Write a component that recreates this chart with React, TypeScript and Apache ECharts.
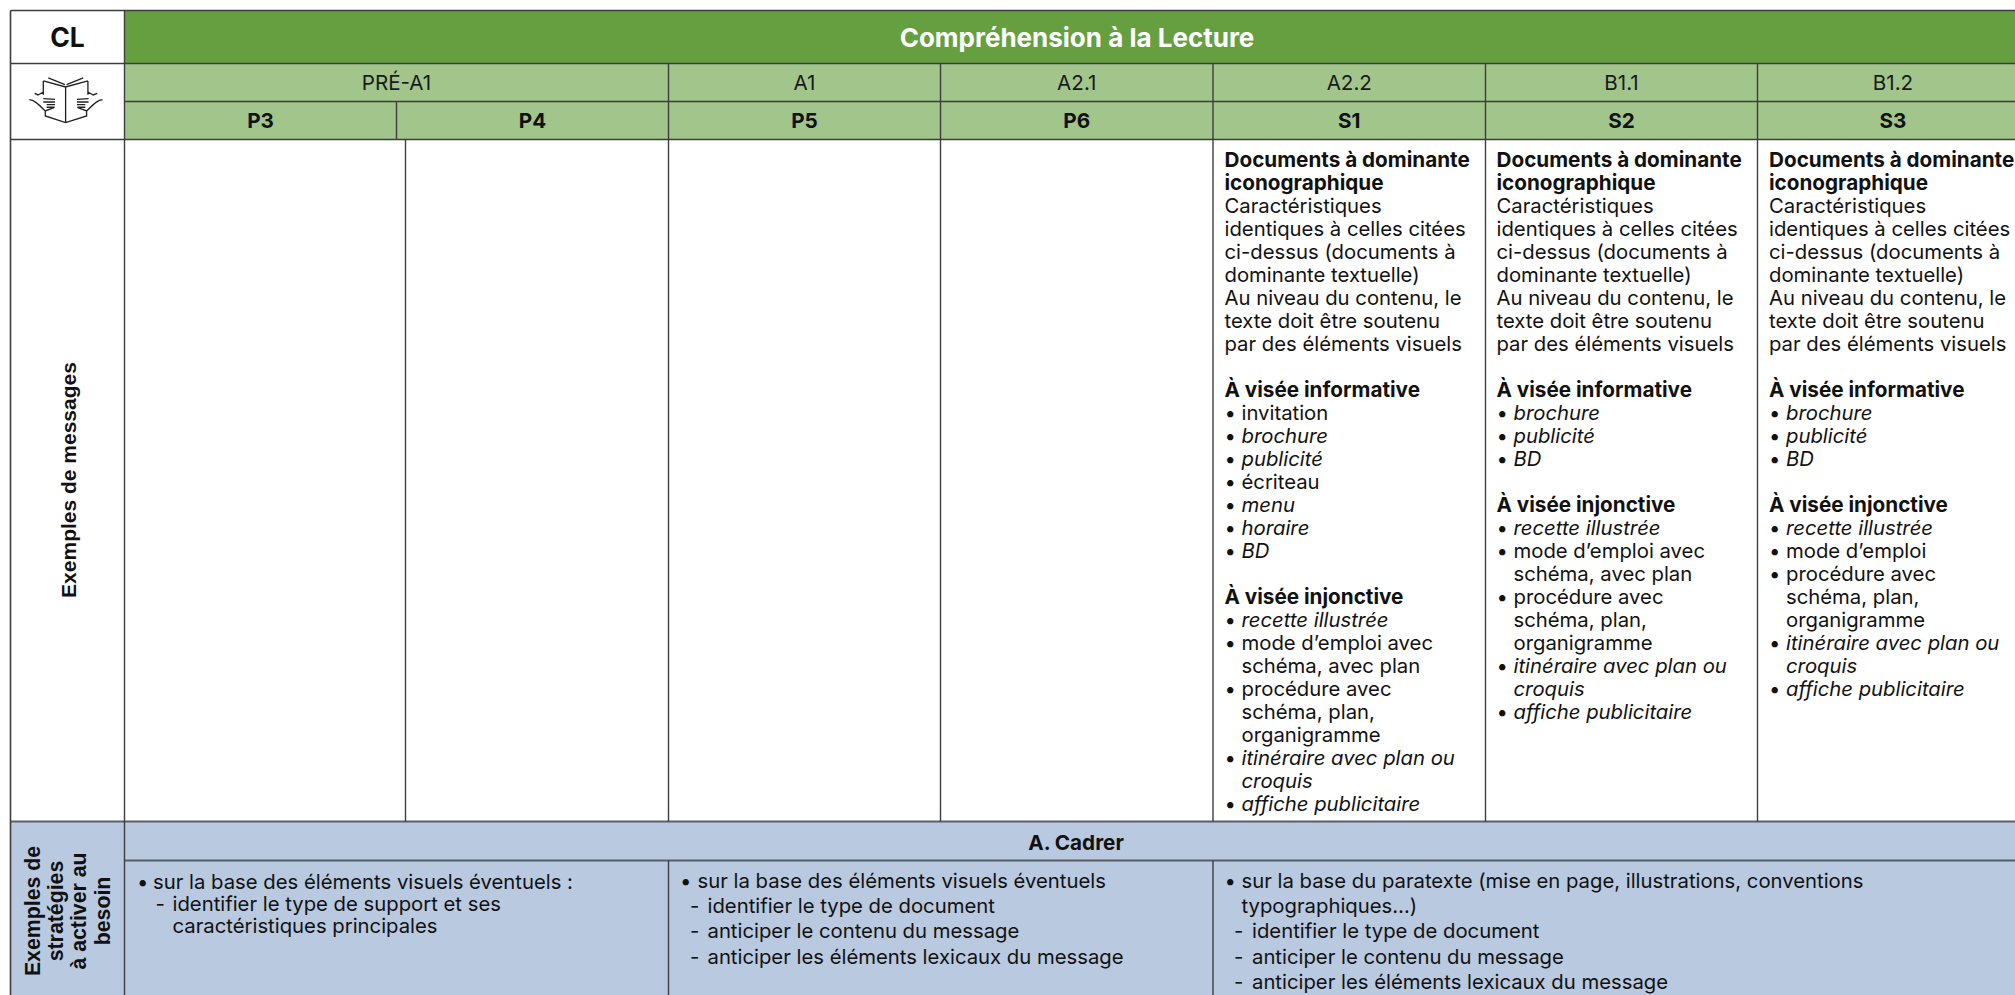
import React, { useEffect, useRef } from "react";
import * as echarts from "echarts";

const title = "Compréhension à la Lecture";
const corner = "CL";
const levels = ["PRÉ-A1", "A1", "A2.1", "A2.2", "B1.1", "B1.2"];
const grades = ["P3", "P4", "P5", "P6", "S1", "S2", "S3"];
const rowLabelMessages = "Exemples de messages";
const rowLabelStrategies = ["Exemples de", "stratégies", "à activer au", "besoin"];
const sectionTitle = "A. Cadrer";

const intro = [
  ["b", "Documents à dominante"],
  ["b", "iconographique"],
  ["r", "Caractéristiques"],
  ["r", "identiques à celles citées"],
  ["r", "ci-dessus (documents à"],
  ["r", "dominante textuelle)"],
  ["r", "Au niveau du contenu, le"],
  ["r", "texte doit être soutenu"],
  ["r", "par des éléments visuels"],
  ["", ""],
  ["b", "À visée informative"],
];
const cellS1 = [
  ...intro,
  ["lr", "invitation"],
  ["li", "brochure"],
  ["li", "publicité"],
  ["lr", "écriteau"],
  ["li", "menu"],
  ["li", "horaire"],
  ["li", "BD"],
  ["", ""],
  ["b", "À visée injonctive"],
  ["li", "recette illustrée"],
  ["lr", "mode d’emploi avec"],
  ["cr", "schéma, avec plan"],
  ["lr", "procédure avec"],
  ["cr", "schéma, plan,"],
  ["cr", "organigramme"],
  ["li", "itinéraire avec plan ou"],
  ["ci", "croquis"],
  ["li", "affiche publicitaire"],
];
const cellS2 = [
  ...intro,
  ["li", "brochure"],
  ["li", "publicité"],
  ["li", "BD"],
  ["", ""],
  ["b", "À visée injonctive"],
  ["li", "recette illustrée"],
  ["lr", "mode d’emploi avec"],
  ["cr", "schéma, avec plan"],
  ["lr", "procédure avec"],
  ["cr", "schéma, plan,"],
  ["cr", "organigramme"],
  ["li", "itinéraire avec plan ou"],
  ["ci", "croquis"],
  ["li", "affiche publicitaire"],
];
const cellS3 = [
  ...intro,
  ["li", "brochure"],
  ["li", "publicité"],
  ["li", "BD"],
  ["", ""],
  ["b", "À visée injonctive"],
  ["li", "recette illustrée"],
  ["lr", "mode d’emploi"],
  ["lr", "procédure avec"],
  ["cr", "schéma, plan,"],
  ["cr", "organigramme"],
  ["li", "itinéraire avec plan ou"],
  ["ci", "croquis"],
  ["li", "affiche publicitaire"],
];
const stratA = [
  ["lr", "sur la base des éléments visuels éventuels :"],
  ["d", "identifier le type de support et ses"],
  ["e", "caractéristiques principales"],
];
const stratB = [
  ["lr", "sur la base des éléments visuels éventuels"],
  ["d", "identifier le type de document"],
  ["d", "anticiper le contenu du message"],
  ["d", "anticiper les éléments lexicaux du message"],
];
const stratC = [
  ["lr", "sur la base du paratexte (mise en page, illustrations, conventions"],
  ["cr", "typographiques…)"],
  ["d", "identifier le type de document"],
  ["d", "anticiper le contenu du message"],
  ["d", "anticiper les éléments lexicaux du message"],
];

const bookPath =
  "M167 75L167 182M100 57L167 75L234 57M115 48L165 68M220 48L170 68M100 57L100 98M234 57L234 98" +
  "M106 146L106 162L167 182L230 162L230 146" +
  "M74 94L84 99L100 90M262 94L250 99L234 90" +
  "M58 113C72 114 82 124 106 147L134 136M278 113C264 114 254 124 230 147L202 136" +
  "M100 110L135 112M100 120L135 120M110 128L135 128M110 136L134 136" +
  "M236 110L201 112M236 120L201 120M226 128L201 128M226 136L202 136";
echarts.graphic.registerShape("book", echarts.graphic.extendPath(bookPath, {}) as any);

const FONT = "Inter";
const GREEN = "#659f3f";
const LIGHT = "#a2c58b";
const BLUE = "#b8c9e0";
const INK = "#111111";
const LINE = "#3d3d3d";
const FS = 20.3;
const FB = 20.7;

const X0 = 10.5, X1 = 124.5, XP = 396.5, XB = 405.5, X2 = 668.5, X3 = 940.5, X4 = 1213, X5 = 1485.5, X6 = 1757.5, XE = 2028.5, XR = 2015;
const Y0 = 10.5, Y1 = 63.5, Y2 = 101.5, Y3 = 139.5, Y4 = 821.5, Y5 = 860.5, YB = 995;

function rect(x: number, y: number, w: number, h: number, fill: string) {
  return { type: "rect", shape: { x, y, width: w, height: h }, style: { fill, stroke: "none" }, silent: true };
}
function line(x1: number, y1: number, x2: number, y2: number, w = 1.4, c = LINE) {
  return { type: "line", shape: { x1, y1, x2, y2 }, style: { stroke: c, lineWidth: w }, silent: true };
}
function text(x: number, y: number, t: string, o: any = {}) {
  return {
    type: "text",
    x,
    y,
    rotation: o.rotation || 0,
    silent: true,
    style: {
      text: t,
      fontFamily: o.family || FONT,
      fontSize: o.size || FS,
      fontWeight: o.weight || 400,
      fontStyle: o.italic ? "italic" : "normal",
      fill: o.fill || INK,
      align: o.align || "left",
      verticalAlign: "middle",
    },
  };
}

function cell(lines: string[][], x: number, y: number, step: number, ind: any) {
  const out: any[] = [];
  lines.forEach(([k, t], i) => {
    const yy = y + i * step;
    if (!k) return;
    if (k === "b") out.push(text(x, yy, t, { weight: 700, size: FB }));
    else if (k === "r") out.push(text(x, yy, t));
    else if (k === "lr" || k === "li") {
      out.push(text(x, yy, "•"));
      out.push(text(x + ind.t, yy, t, { italic: k === "li" }));
    } else if (k === "cr" || k === "ci") out.push(text(x + ind.t, yy, t, { italic: k === "ci" }));
    else if (k === "d") {
      out.push(text(x + ind.d, yy, "-"));
      out.push(text(x + ind.dt, yy, t));
    } else if (k === "e") out.push(text(x + ind.dt, yy, t));
  });
  return out;
}

export default function App() {
  const ref = useRef<HTMLDivElement>(null);
  useEffect(() => {
    document.body.style.margin = "0";
    const chart = echarts.init(ref.current!, null, { renderer: "svg" });
    const cx = [X2, X3, X4, X5, X6, XE];
    const els: any[] = [
      rect(0, 0, 2015, 995, "#ffffff"),
      rect(X1, Y0, XR - X1, Y1 - Y0, GREEN),
      rect(X1, Y1, XR - X1, Y3 - Y1, LIGHT),
      rect(X0, Y4, XR - X0, YB - Y4, BLUE),
    ];
    // header labels
    els.push(text((X0 + X1) / 2, 37, corner, { weight: 700, size: 26.5, align: "center" }));
    els.push(text(1077, 37, title, { weight: 700, size: 26, fill: "#ffffff", align: "center" }));
    levels.forEach((l, i) => {
      const a = i === 0 ? X1 : cx[i - 1];
      els.push(text((a + cx[i]) / 2, 82, l, { size: 20.6, align: "center", fill: "#1a1a1a" }));
    });
    const gx = [X1, XP, X2, X3, X4, X5, X6, XE];
    grades.forEach((g, i) => {
      els.push(text((gx[i] + gx[i + 1]) / 2, 120.5, g, { weight: 700, size: FB, align: "center" }));
    });
    // body cells
    const ind = { t: 17, d: 9.5, dt: 28 };
    els.push(...cell(cellS1, 1224.5, 159, 23, ind));
    els.push(...cell(cellS2, 1496.5, 159, 23, ind));
    els.push(...cell(cellS3, 1769, 159, 23, ind));
    els.push(...cell(stratA, 137, 881, 22, { t: 16, d: 18.5, dt: 35.5 }));
    els.push(...cell(stratB, 680, 880, 25.4, { t: 17.5, d: 10, dt: 27.5 }));
    els.push(...cell(stratC, 1224.5, 880, 25.4, { t: 17, d: 9.5, dt: 27.5 }));
    els.push(text(1076, 842, sectionTitle, { weight: 700, size: FB, align: "center" }));
    // rotated labels
    els.push(text(68.5, 480, rowLabelMessages, { family: "Liberation Sans", weight: 700, size: 21, rotation: Math.PI / 2, align: "center" }));
    rowLabelStrategies.forEach((t, i) => {
      els.push(text(33 + i * 23.2, 911, t, {
        family: "Liberation Sans", weight: 700, size: 21.3, rotation: Math.PI / 2, align: "center",
      }));
    });
    // grid lines
    els.push(line(X0, Y0, XR, Y0));
    els.push(line(X0, Y1, XR, Y1));
    els.push(line(X1, Y2, XR, Y2));
    els.push(line(X0, Y3, XR, Y3));
    els.push(line(X0, Y4, XR, Y4, 2, "#5a5f66"));
    els.push(line(X1, Y5, XR, Y5, 2, "#5a5f66"));
    els.push(line(X0, Y0, X0, YB, 1.6));
    els.push(line(X1, Y0, X1, YB, 1.4));
    els.push(line(XP, Y2, XP, Y3));
    els.push(line(XB, Y3, XB, Y4));
    els.push(line(X2, Y1, X2, Y4));
    els.push(line(X2, Y5, X2, YB));
    els.push(line(X3, Y1, X3, Y4));
    els.push(line(X4, Y1, X4, Y4));
    els.push(line(X4, Y5, X4, YB));
    els.push(line(X5, Y1, X5, Y4));
    els.push(line(X6, Y1, X6, Y4));
    // book icon
    els.push({
      type: "book",
      x: 10,
      y: 62,
      scaleX: 1 / 3,
      scaleY: 1 / 3,
      silent: true,
      style: { fill: "none", stroke: "#222222", lineWidth: 4 },
    });
    chart.setOption({ animation: false, graphic: { elements: els } });
    return () => chart.dispose();
  }, []);
  return <div ref={ref} style={{ width: 2015, height: 995 }} />;
}
